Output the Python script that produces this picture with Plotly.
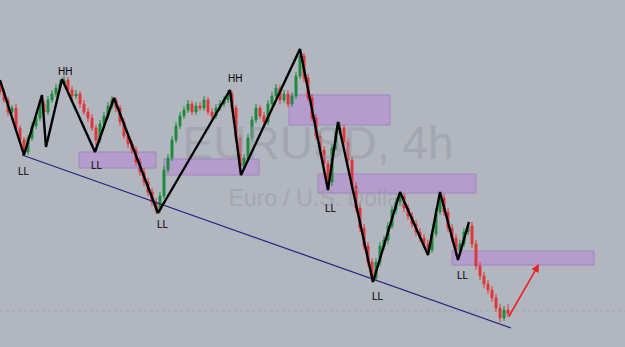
import plotly.graph_objects as go

# Candle data in chart pixel-level units (screen y grows downward; axis is reversed)
candle_x = list(range(0, 512, 4))
candle_close = [92, 100, 112, 108, 128, 140, 152, 138, 126, 118, 104, 112, 100, 94, 88, 84,
                80, 90, 96, 94, 104, 112, 118, 128, 140, 124, 116, 106, 100, 108, 122, 136,
                144, 150, 162, 172, 182, 192, 202, 210, 196, 170, 158, 140, 126, 116, 110, 104,
                112, 106, 108, 100, 112, 116, 108, 104, 100, 94, 108, 138, 166, 158, 138, 120,
                108, 116, 122, 104, 96, 88, 100, 94, 104, 96, 76, 56, 78, 98, 118, 136,
                150, 164, 182, 148, 132, 128, 142, 160, 186, 208, 228, 246, 262, 278, 262, 246,
                240, 226, 210, 202, 196, 208, 216, 224, 232, 238, 244, 250, 234, 212, 198, 212,
                228, 238, 250, 244, 232, 226, 244, 266, 276, 284, 290, 298, 308, 318, 310, 314]
candle_open = [86] + candle_close[:-1]
candle_high = [82, 89, 97, 105, 104, 125, 137, 135, 122, 115, 100, 101, 96, 90, 84, 80,
               76, 77, 86, 90, 91, 100, 108, 114, 125, 120, 112, 102, 96, 97, 105, 118,
               132, 140, 146, 158, 168, 178, 188, 198, 192, 166, 154, 136, 122, 112, 106, 100,
               101, 102, 102, 96, 97, 108, 104, 100, 96, 90, 91, 105, 134, 154, 134, 116,
               104, 105, 112, 100, 92, 84, 85, 90, 90, 92, 72, 50, 53, 74, 94, 114,
               132, 146, 160, 144, 128, 122, 125, 138, 156, 182, 204, 224, 242, 258, 258, 242,
               236, 222, 206, 198, 192, 193, 204, 212, 220, 228, 234, 240, 230, 208, 194, 194,
               208, 224, 234, 240, 228, 222, 222, 240, 262, 272, 280, 286, 294, 304, 306, 304]
candle_low = [95, 103, 116, 114, 131, 144, 156, 155, 141, 129, 121, 116, 115, 103, 97, 91,
              86, 94, 100, 99, 108, 115, 122, 131, 146, 143, 127, 119, 109, 112, 126, 139,
              148, 154, 166, 176, 186, 196, 206, 214, 213, 199, 173, 161, 143, 129, 119, 113,
              115, 115, 111, 111, 115, 119, 119, 111, 107, 103, 112, 141, 172, 170, 161, 141,
              123, 119, 125, 125, 107, 99, 104, 103, 107, 107, 99, 79, 82, 101, 121, 140,
              154, 168, 188, 186, 151, 135, 146, 164, 190, 212, 232, 250, 266, 282, 281, 266,
              250, 244, 229, 214, 206, 212, 220, 228, 236, 242, 248, 254, 253, 237, 215, 216,
              232, 242, 256, 254, 247, 235, 248, 270, 280, 288, 294, 302, 312, 322, 321, 317]

# Swing (zigzag) pivots
zig_x = [0, 24, 42, 46, 62, 95, 114, 158, 230, 241, 300, 328, 338, 373, 400, 428, 440, 458, 469]
zig_y = [80, 155, 95, 147, 79, 152, 98, 213, 90, 175, 49, 190, 122, 282, 192, 255, 192, 260, 222]

# Trend line
trend_x = [22, 511]
trend_y = [155, 328]

# Projection arrow
arrow_from = (508, 318)
arrow_to = (539, 264)

# Zones: (x0, y0, x1, y1)
zones = [(79, 152, 156, 168), (164, 159, 259, 175), (289, 95, 390, 125),
         (318, 174, 476, 193), (452, 251, 594, 265)]

# Swing labels
label_text = ["HH", "HH", "LL", "LL", "LL", "LL", "LL", "LL"]
label_x = [65, 235, 24, 97, 163, 331, 378, 463]
label_y = [71, 78, 171, 165, 224, 208, 296, 275]

# Watermark
wm_text = ["EURUSD, 4h", "Euro / U.S. Dollar"]
wm_x = [318, 318]
wm_y = [147, 200]
wm_size = [46, 23]

baseline_y = 311

BG = "#b2b6bf"
fig = go.Figure()

for (x0, y0, x1, y1) in zones:
    fig.add_shape(type="rect", x0=x0, y0=y0, x1=x1, y1=y1, layer="below",
                  fillcolor="#b49dcc", line=dict(color="#a084c0", width=1))

fig.add_shape(type="line", x0=0, x1=625, y0=baseline_y, y1=baseline_y, layer="below",
              line=dict(color="#a3a6ae", width=1, dash="dot"))

for t, wx, wy, ws in zip(wm_text, wm_x, wm_y, wm_size):
    fig.add_trace(go.Scatter(x=[wx], y=[wy], mode="text", text=[t], textposition="middle center",
                             textfont=dict(family="Liberation Sans, Arial", size=ws, color="rgba(150,154,165,0.55)"),
                             showlegend=False, hoverinfo="skip"))

# bullish candles move up the screen (decreasing pixel value) -> green
fig.add_trace(go.Candlestick(
    x=candle_x, open=candle_open, high=candle_high, low=candle_low, close=candle_close,
    increasing=dict(line=dict(color="#e0363a", width=1), fillcolor="#e0363a"),
    decreasing=dict(line=dict(color="#1f8a3c", width=1), fillcolor="#1f8a3c"),
    whiskerwidth=0, showlegend=False, hoverinfo="skip"))

fig.add_trace(go.Scatter(x=trend_x, y=trend_y, mode="lines",
                         line=dict(color="#24247e", width=1.2), showlegend=False, hoverinfo="skip"))
fig.add_trace(go.Scatter(x=zig_x, y=zig_y, mode="lines",
                         line=dict(color="#000000", width=2.4), showlegend=False, hoverinfo="skip"))

fig.add_annotation(x=arrow_to[0], y=arrow_to[1], ax=arrow_from[0], ay=arrow_from[1],
                   xref="x", yref="y", axref="x", ayref="y", showarrow=True,
                   arrowhead=2, arrowsize=1, arrowwidth=1.6, arrowcolor="#e8202a", text="")

for t, lx, ly in zip(label_text, label_x, label_y):
    fig.add_annotation(x=lx, y=ly, text=t, showarrow=False,
                       font=dict(family="Liberation Sans, Arial", size=10, color="#000000"))

fig.update_layout(width=625, height=347, margin=dict(l=0, r=0, t=0, b=0),
                  paper_bgcolor=BG, plot_bgcolor=BG,
                  xaxis=dict(range=[0, 625], visible=False, rangeslider=dict(visible=False), fixedrange=True),
                  yaxis=dict(range=[347, 0], visible=False, fixedrange=True))

fig.write_html("out.html")
